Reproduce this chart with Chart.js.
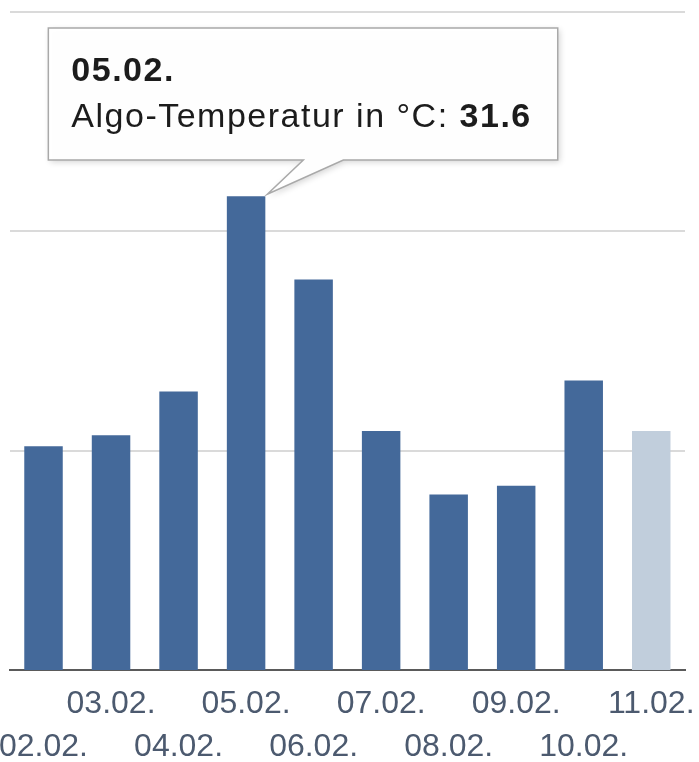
<!DOCTYPE html>
<html>
<head>
<meta charset="utf-8">
<script src="https://cdn.jsdelivr.net/npm/chart.js@4.4.1/dist/chart.umd.min.js"></script>
<style>
  html, body { margin: 0; padding: 0; background: #fff; overflow: hidden; }
  #wrap { position: absolute; left: -30px; top: 0; width: 749px; height: 782px; }
</style>
</head>
<body>
<div id="wrap"><canvas id="barChart"></canvas></div>
<script>
"use strict";

const days = ['02.02.', '03.02.', '04.02.', '05.02.', '06.02.', '07.02.', '08.02.', '09.02.', '10.02.', '11.02.'];
const temps = [20.2, 20.7, 22.7, 31.6, 27.8, 20.9, 18.0, 18.4, 23.2, 20.9];
const yTicks = [10, 20, 30, 40];
const seriesName = 'Algo-Temperatur in °C';
const tipIndex = 3; // 05.02.

const fontFamily = '"Liberation Sans", Arial, Helvetica, sans-serif';

// tooltip drawn by hand, Highcharts style callout
const tipPlugin = {
  id: 'tip',
  afterDraw(chart) {
    const c = chart.ctx;
    const bar = chart.getDatasetMeta(0).data[tipIndex];
    const ax = bar.x + bar.width / 2 + 2;
    const ay = bar.y - 2;
    const label = seriesName + ': ';
    const value = temps[tipIndex].toFixed(1);

    c.save();
    c.letterSpacing = '1.5px';
    c.font = 'bold 34px ' + fontFamily;
    const valW = c.measureText(value).width;
    c.font = '34px ' + fontFamily;
    const labW = c.measureText(label).width;

    const left = ax - 219;
    const top = chart.chartArea.top + 16;
    const right = left + 24 + labW + valW + 25;
    const bottom = top + 132;

    c.beginPath();
    c.moveTo(left, top);
    c.lineTo(right, top);
    c.lineTo(right, bottom);
    c.lineTo(ax + 76, bottom);
    c.lineTo(ax, ay);
    c.lineTo(ax + 36, bottom);
    c.lineTo(left, bottom);
    c.closePath();
    c.shadowColor = 'rgba(0,0,0,0.18)';
    c.shadowBlur = 6;
    c.shadowOffsetX = 2;
    c.shadowOffsetY = 2;
    c.fillStyle = 'rgba(255,255,255,0.97)';
    c.fill();
    c.shadowColor = 'transparent';
    c.strokeStyle = '#a9a9a9';
    c.lineWidth = 1.5;
    c.stroke();

    c.fillStyle = '#1c1c1c';
    c.textBaseline = 'alphabetic';
    c.textAlign = 'left';
    c.font = 'bold 34px ' + fontFamily;
    c.fillText(days[tipIndex], left + 23, top + 53);
    c.font = '34px ' + fontFamily;
    c.fillText(label, left + 23, bottom - 33);
    c.font = 'bold 34px ' + fontFamily;
    c.fillText(value, left + 23 + labW, bottom - 33);
    c.restore();
  }
};

let ctx_bar = document.getElementById('barChart').getContext('2d');

let myBarChart = new Chart(ctx_bar, {
  type: 'bar',
  data: {
    labels: days,
    datasets: [{
      label: seriesName,
      data: temps,
      backgroundColor: (ctx) => ctx.dataIndex === days.length - 1 ? '#c1cedc' : '#44699a',
      borderWidth: 0,
      barPercentage: 0.57,
      categoryPercentage: 1
    }]
  },
  options: {
    responsive: true,
    maintainAspectRatio: false,
    animation: false,
    layout: { padding: { left: 39.75, right: 34, top: 12, bottom: 0 } },
    plugins: {
      legend: { display: false },
      tooltip: { enabled: false }
    },
    scales: {
      x: {
        grid: { display: false, drawTicks: false },
        border: { color: '#5a5a5a', width: 2 },
        ticks: {
          autoSkip: false,
          maxRotation: 0,
          padding: 13,
          color: '#4c5a6f',
          font: { family: fontFamily, size: 32, lineHeight: 1.344 },
          // stagger the labels on two rows
          callback: (value, index) => index % 2 === 0 ? ['', days[index]] : [days[index], '']
        }
      },
      y: {
        min: yTicks[0],
        max: yTicks[yTicks.length - 1],
        grid: { color: '#dadada', lineWidth: 2, drawTicks: false },
        border: { display: false },
        ticks: { display: false, stepSize: yTicks[1] - yTicks[0] }
      }
    }
  },
  plugins: [tipPlugin]
});
</script>
</body>
</html>
